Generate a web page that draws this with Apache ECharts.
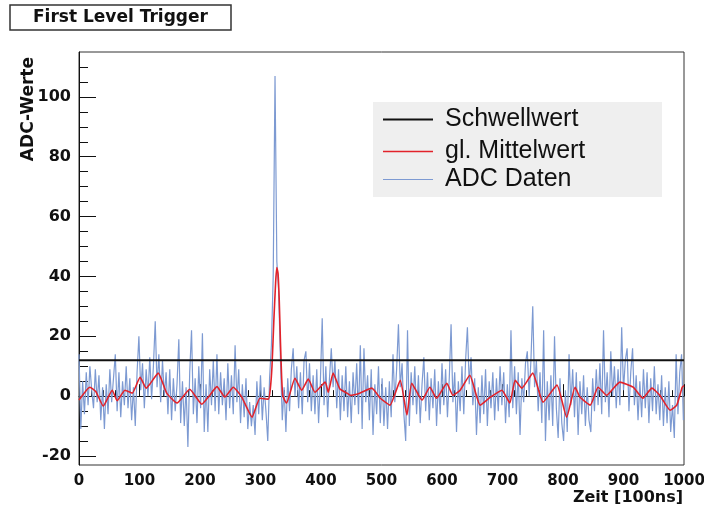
<!DOCTYPE html>
<html>
<head>
<meta charset="utf-8">
<script src="https://cdn.jsdelivr.net/npm/echarts@6/dist/echarts.min.js"></script>
<style>html,body{margin:0;padding:0;background:#fff}#c{width:704px;height:512px}</style>
</head>
<body>
<div id="c"></div>
<script>
// ---- data ----
const titleText = 'First Level Trigger';
const xAxisTitle = 'Zeit [100ns]';
const yAxisTitle = 'ADC-Werte';
const seriesNames = ['Schwellwert', 'gl. Mittelwert', 'ADC Daten'];
const threshold = 12;
const timeRange = [0, 1000];
const yRange = [-23, 115];
const yTickValues = [-20, 0, 20, 40, 60, 80, 100];
const yMinorTickValues = [-15, -10, -5, 5, 10, 15, 25, 30, 35, 45, 50, 55, 65, 70, 75, 85, 90, 95, 105, 110];
// ADC samples (one value every 3 time units)
const adcStep = 3;
const adcValues = [
  14, -11, 5, -6, 8, -3, 10, 2, -4, 9,
  -2, 7, -8, 3, -11, 4, -6, 9, -2, 6,
  14, -5, 8, -7, 5, -3, 10, -4, 6, -8,
  3, -10, 8, 20, 2, 11, -4, 9, 0, 13,
  -1, 10, 25, 3, 14, -2, 12, 0, 8, -6,
  9, -8, 6, -5, 4, 19, -9, 5, -10, 3,
  -17, 8, 22, -6, 6, -9, 10, -4, 21, -12,
  4, -12, 9, -3, 12, -5, 14, -6, 8, -3,
  6, -8, 11, -4, 7, -6, 17, -2, 9, -9,
  4, -7, 6, -11, -2, -10, -3, -13, 5, -6,
  7, -8, 3, -5, -15, 6, 17, 40, 107, 45,
  35, 12, -8, 3, -12, 6, -5, 9, 16, 0,
  10, -4, 8, -6, 12, 15, -2, 11, -5, 7,
  -6, 9, -9, 5, 26, -3, 10, -7, 6, 16,
  3, 12, -4, 9, -8, 7, -5, 10, -7, 5,
  -9, 8, -3, 11, -6, 17, -11, 16, -2, 7,
  -8, 9, -13, 4, -6, 10, -9, 6, -10, 3,
  -11, 5, -7, 14, -2, 9, 24, 3, 11, -6,
  -15, 22, -10, 8, -3, 10, -6, 7, -9, 4,
  13, -5, 8, -8, 6, -4, 9, -10, 5, -6,
  11, -3, 9, -7, 6, 24, -2, 8, -12, 5,
  -5, 10, -6, 12, 23, 4, 13, -3, 6, -13,
  3, -9, 7, -6, 9, -10, 5, -4, 8, -8,
  6, -5, 10, -3, 8, -9, 4, -7, 22, -4,
  10, -6, 8, -13, 6, -2, 11, 15, 0, 12,
  30, 3, 12, -5, 8, -9, 22, -15, 5, -8,
  7, -10, 20, -4, -14, 6, -9, -15, 2, -12,
  14, -3, 9, -7, 8, -13, 5, -6, 7, -10,
  3, -8, -12, 6, -5, 9, -3, 11, -6, 22,
  -2, 8, -7, 15, 0, 10, -4, 9, -3, 23,
  2, 12, 16, -5, 8, 16, -3, 7, -8, 5,
  -7, 9, -4, 8, -9, 6, -5, 10, -6, 4,
  -8, 7, -10, 3, -9, 5, -12, -3, -14, 14,
  -6, 8, 14, -8
];
// moving average (smoothed) curve
const avgTimes = [0,18,28,40,55,63,76,88,101,111,117,131,145,162,183,203,215,228,241,255,269,286,299,313,316,319,322,325,327,329,331,333,335,337,343,357,368,379,390,407,412,420,431,443,448,464,484,498,514,531,542,550,567,580,591,608,618,630,646,663,679,699,712,721,732,750,767,790,806,820,828,845,858,872,894,916,932,947,960,977,988,997,1000];
const avgValues = [-1.3,3,1.5,-3.3,2,-1.5,2,1,6.3,2.7,4,7.7,1,-2.3,2.3,-2.7,0,3.2,-0.3,3,-0.3,-7,-0.7,-1,2,10,25,38,43,41,32,18,6,0,-2.3,6,2,5.7,1.3,4.7,1.3,7.7,2.5,1,0.3,1,2.7,-0.7,-3,5.3,-6.3,4.3,-1.3,3,-0.7,4.3,0.3,2,7,-3,-0.5,2,-2.3,5.3,2.7,7.7,-2,3.7,-7,3,-0.3,-3,3,0.3,4.7,3,-0.7,2.7,0.3,-4.7,-3,3,3.5];

// ---- chart ----
const BOLD = 'DejaVu Sans';
const REG = 'Liberation Sans';
const adcData = adcValues.map((v, i) => [i * adcStep, v]);
const avgData = avgTimes.map((t, i) => [t, avgValues[i]]);
const thrData = timeRange.map(t => [t, threshold]);

const chart = echarts.init(document.getElementById('c'), null, {renderer: 'canvas'});
function legendFor(name, top, h) {
  return {
    left: 378, top: top, orient: 'vertical', itemWidth: 50, itemHeight: h, icon: 'rect',
    data: [name], selectedMode: false,
    textStyle: {fontFamily: REG, fontSize: 25, color: '#111', padding: [0, 0, 0, 7]}
  };
}
const labelStyle = {fontFamily: BOLD, fontSize: 16, fontWeight: 'bold', color: '#111'};
chart.setOption({
  animation: false,
  title: {
    text: titleText, left: 10, top: 5,
    borderColor: '#333', borderWidth: 1.5, padding: [4, 23, 4, 23],
    textStyle: {fontFamily: BOLD, fontSize: 17, fontWeight: 'bold', color: '#111'}
  },
  graphic: [{
    type: 'rect', left: 373, top: 102, z: -1,
    shape: {width: 289, height: 95}, style: {fill: '#efefef'}
  }, {
    type: 'text', right: 21, top: 490,
    style: {text: xAxisTitle, font: 'bold 16px "DejaVu Sans"', fill: '#111'}
  }],
  legend: [
    legendFor(seriesNames[0], 102, 2),
    legendFor(seriesNames[1], 134, 1.5),
    legendFor(seriesNames[2], 162, 1)
  ],
  grid: {left: 79, right: 20, top: 52, bottom: 47, show: true, borderColor: '#333', borderWidth: 1,
         containLabel: false, outerBoundsMode: 'none'},
  xAxis: {
    type: 'value', min: timeRange[0], max: timeRange[1], interval: 100,
    axisLine: {lineStyle: {color: '#111', width: 1}},
    axisTick: {inside: true, length: 12, lineStyle: {color: '#111'}},
    minorTick: {show: true, splitNumber: 5, length: 6, lineStyle: {color: '#111'}},
    splitLine: {show: false},
    axisLabel: Object.assign({margin: 9, formatter: v => String(v)}, labelStyle, {fontSize: 15})
  },
  yAxis: [{
    type: 'value', min: yRange[0], max: yRange[1], position: 'left',
    name: yAxisTitle, nameLocation: 'end', nameRotate: 90, nameGap: -5, nameMoveOverlap: false,
    nameTextStyle: Object.assign({align: 'right', verticalAlign: 'bottom', padding: [0, 0, 42, 0]}, labelStyle, {fontSize: 17}),
    axisLine: {show: true, lineStyle: {color: '#111', width: 1}},
    axisTick: {show: true, inside: true, length: 17, customValues: yTickValues, lineStyle: {color: '#111'}},
    splitLine: {show: false},
    axisLabel: Object.assign({customValues: yTickValues, margin: 8}, labelStyle)
  }, {
    type: 'value', min: yRange[0], max: yRange[1], position: 'left', offset: 0,
    axisLine: {show: false},
    axisTick: {show: true, inside: true, length: 9, customValues: yMinorTickValues, lineStyle: {color: '#111'}},
    splitLine: {show: false},
    axisLabel: {show: false}
  }],
  series: [{
    name: seriesNames[2], type: 'line', data: adcData, symbol: 'none',
    lineStyle: {color: '#7d9ad2', width: 1.2}, itemStyle: {color: '#7d9ad2'}, z: 2
  }, {
    name: seriesNames[1], type: 'line', data: avgData, symbol: 'none', smooth: 0.15,
    lineStyle: {color: '#e2222a', width: 1.6}, itemStyle: {color: '#e2222a'}, z: 3
  }, {
    name: seriesNames[0], type: 'line', data: thrData, symbol: 'none',
    lineStyle: {color: '#111', width: 2}, itemStyle: {color: '#111'}, z: 4
  }]
});
</script>
</body>
</html>
